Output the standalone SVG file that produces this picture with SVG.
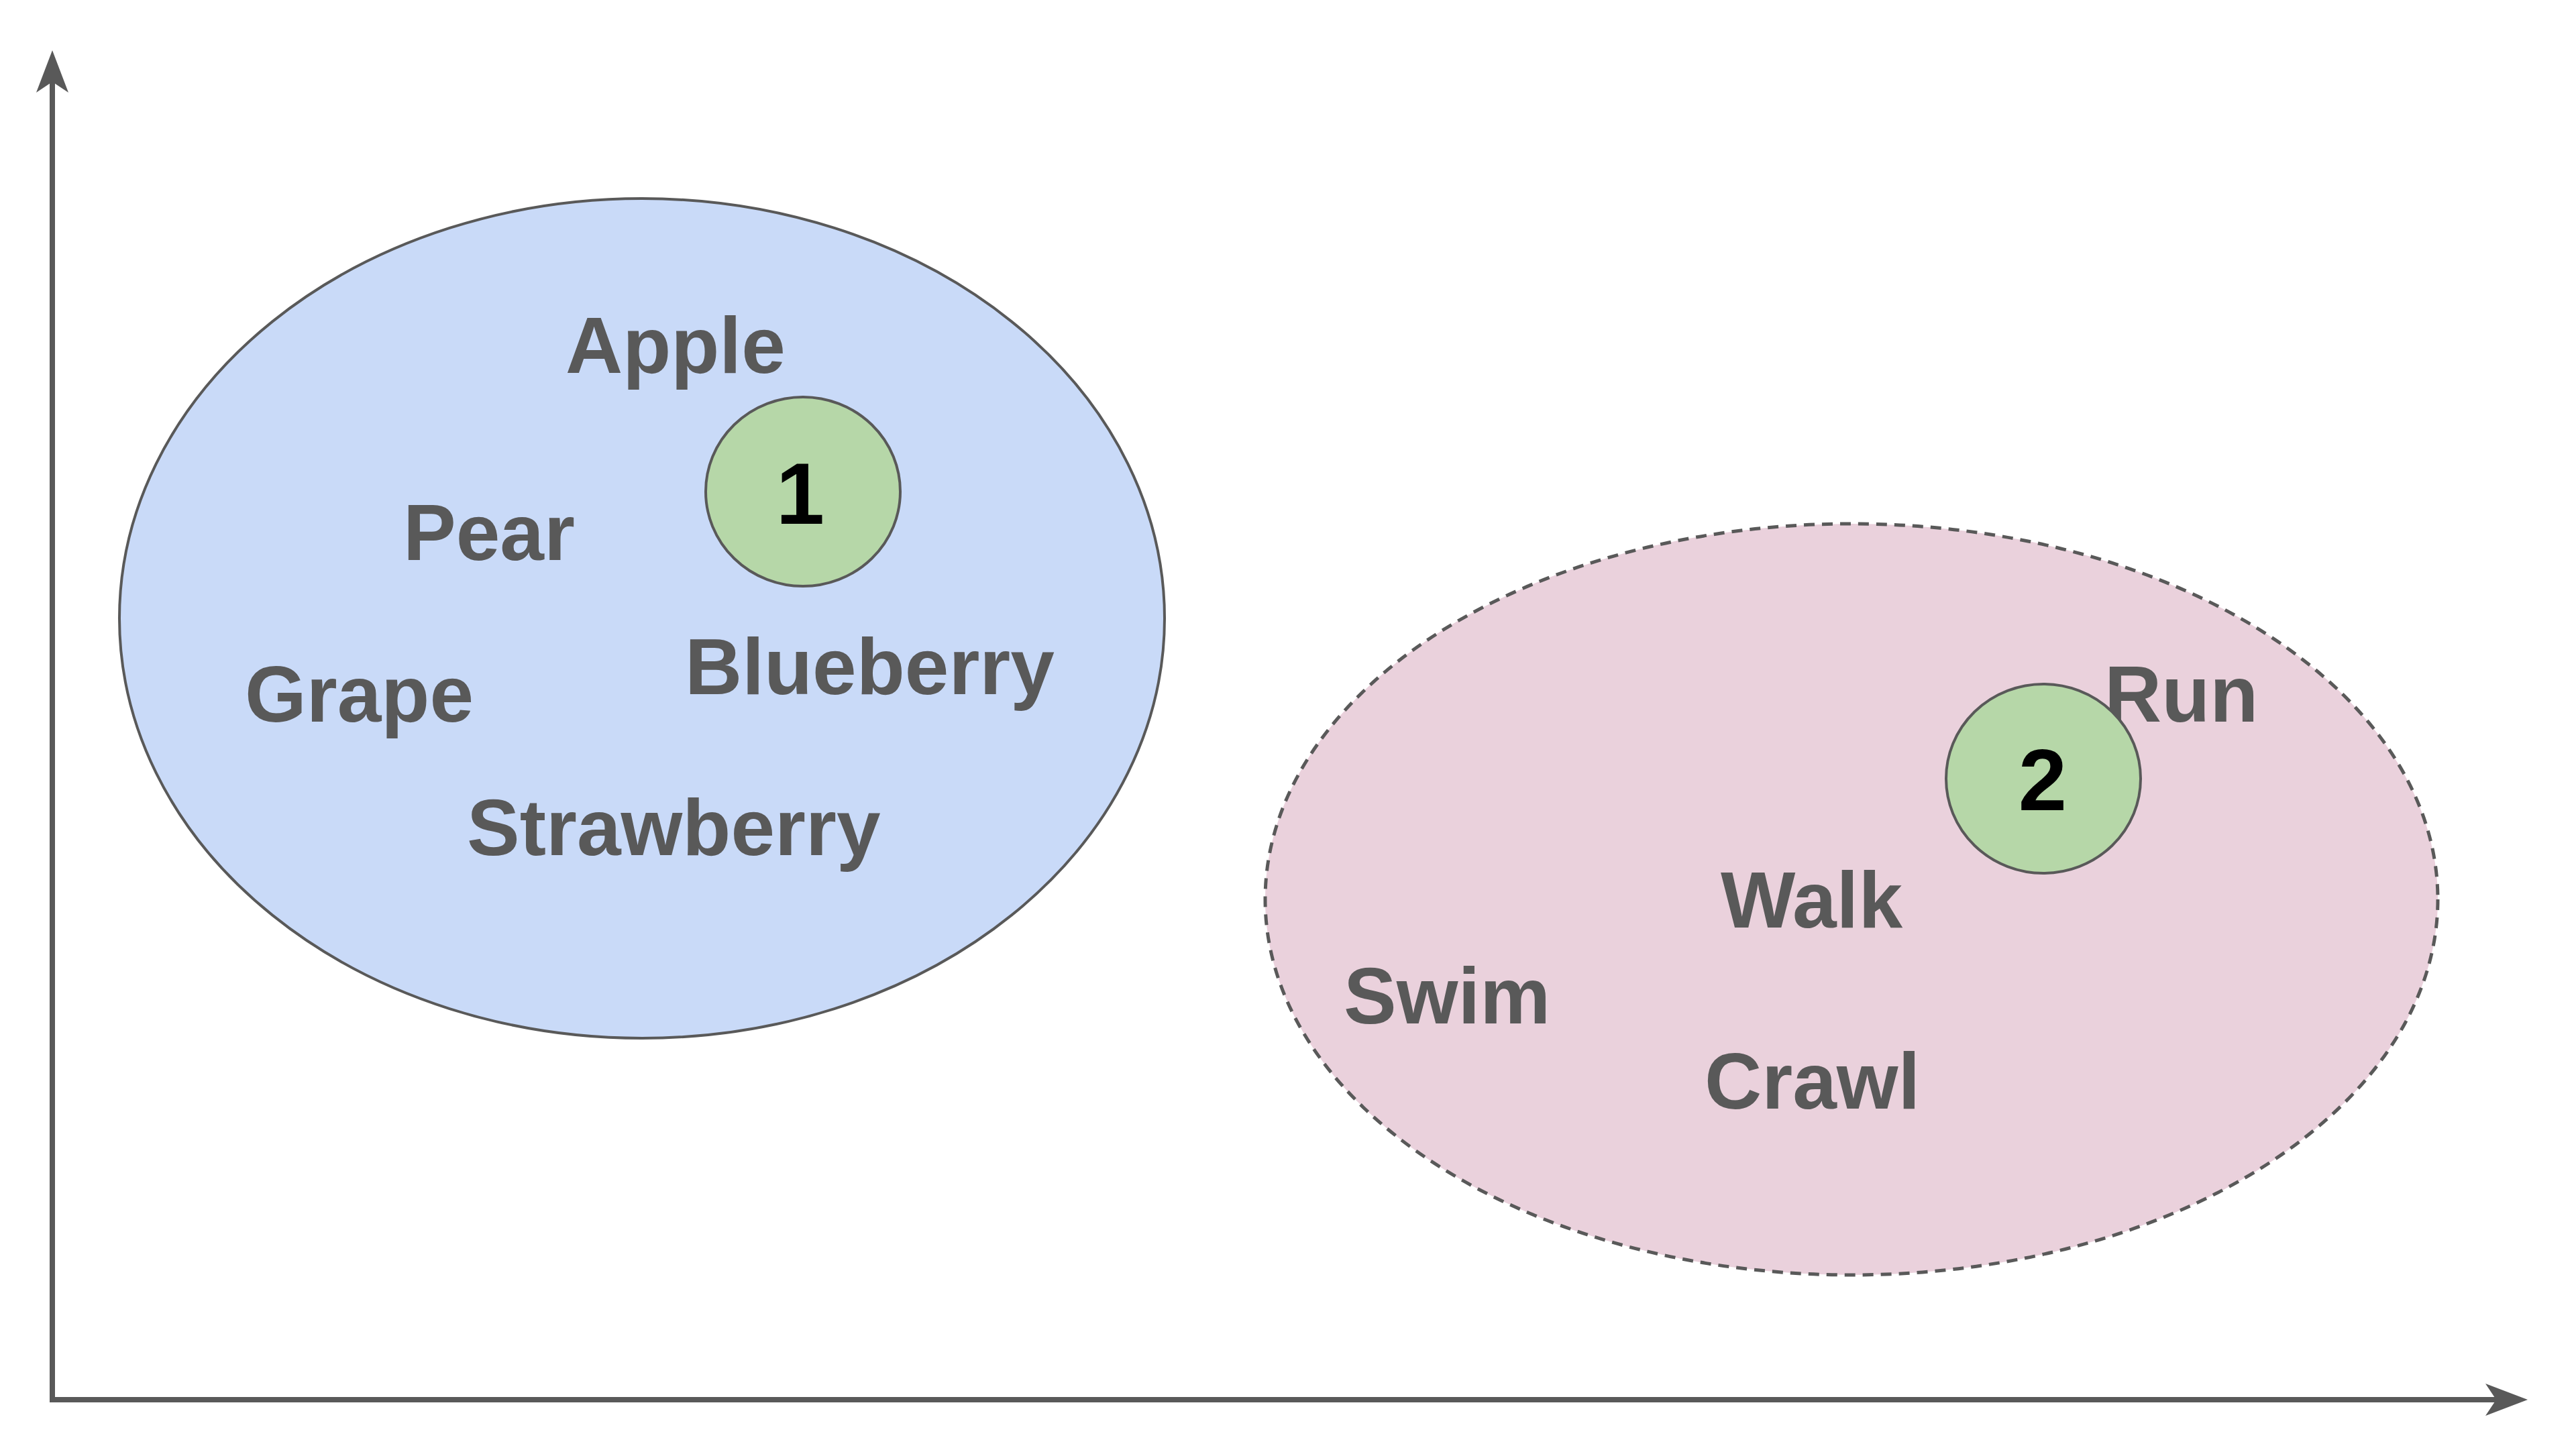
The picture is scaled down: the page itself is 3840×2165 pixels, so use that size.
<svg xmlns="http://www.w3.org/2000/svg" width="3840" height="2165" viewBox="0 0 3840 2165">
  <style>
    .lbl { font-family: "Liberation Sans", Arial, sans-serif; font-weight: bold; font-size: 118px; fill: #595959; }
    .num { font-family: "Liberation Sans", Arial, sans-serif; font-weight: bold; font-size: 130px; fill: #000000; text-anchor: middle; }
    .blob1 { fill: #c9daf8; stroke: #595959; stroke-width: 4; }
    .blob2 { fill: #ead1dc; stroke: #595959; stroke-width: 5; stroke-dasharray: 16 11; }
    .dot { fill: #b6d7a8; stroke: #595959; stroke-width: 4; }
    .axis { stroke: #595959; stroke-width: 8; fill: none; marker-end: url(#arrow); }
  </style>
  <defs>
    <marker id="arrow" markerUnits="userSpaceOnUse" viewBox="-70 -30 80 60" markerWidth="80" markerHeight="60" refX="-47" refY="0" orient="auto">
      <path d="M0,0 L-63,-24 L-47,0 L-63,24 Z" fill="#595959"/>
    </marker>
  </defs>
  <rect x="0" y="0" width="3840" height="2165" fill="#ffffff"/>

  <g id="cluster-fruits">
    <ellipse class="blob1" cx="957" cy="922" rx="779" ry="626"/>
    <text class="lbl" x="843" y="556">Apple</text>
    <text class="lbl" x="601" y="835">Pear</text>
    <text class="lbl" x="365" y="1076">Grape</text>
    <text class="lbl" x="1021" y="1035">Blueberry</text>
    <text class="lbl" x="696" y="1275">Strawberry</text>
  </g>

  <g id="cluster-motion">
    <ellipse class="blob2" cx="2760" cy="1341" rx="874" ry="560"/>
    <text class="lbl" x="3137" y="1076">Run</text>
    <text class="lbl" x="2565" y="1383">Walk</text>
    <text class="lbl" x="2003" y="1526">Swim</text>
    <text class="lbl" x="2541" y="1653">Crawl</text>
  </g>

  <g id="centroid-1">
    <ellipse class="dot" cx="1197" cy="733" rx="145" ry="141"/>
    <text class="num" x="1193" y="781">1</text>
  </g>

  <g id="centroid-2">
    <ellipse class="dot" cx="3046" cy="1161" rx="145" ry="141"/>
    <text class="num" x="3045" y="1208">2</text>
  </g>

  <g id="connectors">
    <line class="axis" x1="78" y1="2091" x2="78" y2="122"/>
    <line class="axis" x1="74" y1="2087" x2="3721" y2="2087"/>
  </g>
</svg>
